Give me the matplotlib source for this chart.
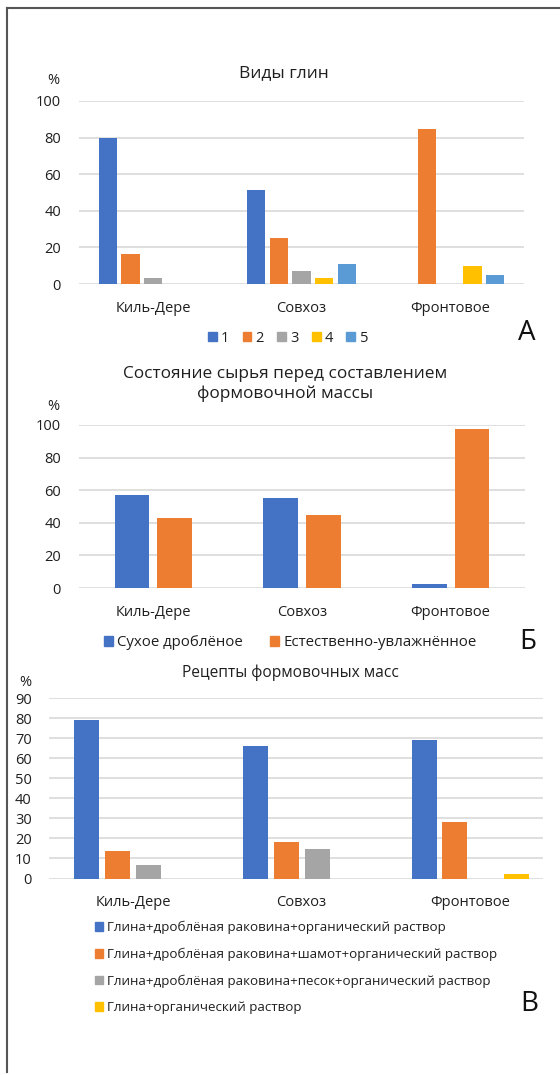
import matplotlib
matplotlib.use("Agg")
import matplotlib.pyplot as plt
from matplotlib.patches import Patch
from matplotlib.lines import Line2D
import numpy as np

plt.rcParams['font.family'] = ['Open Sans', 'DejaVu Sans']

sites = ["Киль-Дере", "Совхоз", "Фронтовое"]

# A - виды глин
clay_names = ["1", "2", "3", "4", "5"]
clay_vals = [
    [80.0, 51.5, 0.0],   # 1
    [16.4, 25.4, 84.6],  # 2
    [3.3, 7.3, 0.0],     # 3
    [0.0, 3.5, 9.9],     # 4
    [0.0, 11.2, 4.8],    # 5
]

# Б - состояние сырья
state_names = ["Сухое дроблёное", "Естественно-увлажнённое"]
state_vals = [
    [56.8, 55.5, 2.6],
    [43.2, 44.5, 97.4],
]

# В - рецепты формовочных масс
recipe_names = [
    "Глина+дроблёная раковина+органический раствор",
    "Глина+дроблёная раковина+шамот+органический раствор",
    "Глина+дроблёная раковина+песок+органический раствор",
    "Глина+органический раствор",
]
recipe_vals = [
    [79.4, 66.4, 69.4],
    [13.7, 18.4, 28.1],
    [6.7, 14.8, 0.0],
    [0.0, 0.0, 2.4],
]

colors = ["#4472C4", "#ED7D31", "#A5A5A5", "#FFC000", "#5B9BD5"]
txt = "#1f1f1f"
grid_c = "#D9D9D9"

W, H = 560, 1075
fig = plt.figure(figsize=(W / 100, H / 100), dpi=100)


def ax_at(x0, x1, ytop, ybot):
    return fig.add_axes([x0 / W, 1 - ybot / H, (x1 - x0) / W, (ybot - ytop) / H])


def style(ax, ymax, step, xmax):
    ax.set_ylim(0, ymax)
    ax.set_xlim(-0.5, xmax)
    ax.set_yticks(np.arange(0, ymax + 1, step))
    ax.set_xticks(range(len(sites)))
    ax.set_xticklabels(sites)
    for s in ax.spines.values():
        s.set_visible(False)
    ax.grid(axis="y", color=grid_c, lw=1.2)
    ax.set_axisbelow(True)
    ax.tick_params(length=0, labelsize=10.5, labelcolor=txt)
    ax.tick_params(axis="x", pad=12)
    ax.tick_params(axis="y", pad=13)


def bars(ax, vals, width, stepw):
    n = len(vals)
    x = np.arange(len(sites))
    for i, v in enumerate(vals):
        ax.bar(x + (i - (n - 1) / 2) * stepw, v, width, color=colors[i], zorder=3)


# ---- A
axA = ax_at(79, 524, 101, 284)
bars(axA, clay_vals, 0.124, 0.153)
style(axA, 100, 20, 2.5)
fig.text(284 / W, 1 - 73 / H, "Виды глин", ha="center", va="center", fontsize=12.5, color=txt)
fig.text(53 / W, 1 - 80 / H, "%", ha="center", va="center", fontsize=10.5, color=txt)
fig.legend([Patch(color=c) for c in colors], clay_names, loc="center",
           bbox_to_anchor=(288 / W, 1 - 338 / H), ncol=5, frameon=False,
           fontsize=10.5, handlelength=0.6, handleheight=0.6, handletextpad=0.3,
           columnspacing=0.9, labelcolor=txt)
fig.text(527 / W, 1 - 333 / H, "А", ha="center", va="center", fontsize=20, color="#111111")

# ---- Б
axB = ax_at(79, 525, 425, 588)
bars(axB, state_vals, 0.232, 0.288)
style(axB, 100, 20, 2.5)
fig.text(285 / W, 1 - 384 / H, "Состояние сырья перед составлением\nформовочной массы",
         ha="center", va="center", fontsize=12.4, color=txt, linespacing=1.3)
fig.text(53 / W, 1 - 406 / H, "%", ha="center", va="center", fontsize=10.5, color=txt)
fig.legend([Patch(color=c) for c in colors[:2]], state_names, loc="center",
           bbox_to_anchor=(290 / W, 1 - 643 / H), ncol=2, frameon=False,
           fontsize=10.8, handlelength=0.6, handleheight=0.6, handletextpad=0.3,
           columnspacing=1.8, labelcolor=txt)
fig.text(528 / W, 1 - 642 / H, "Б", ha="center", va="center", fontsize=20, color="#111111")

# ---- В
axC = ax_at(48.5, 543, 698.3, 878.5)
bars(axC, recipe_vals, 0.148, 0.183)
style(axC, 90, 10, 2.43)
axC.tick_params(axis="y", pad=12)
fig.text(290 / W, 1 - 673 / H, "Рецепты формовочных масс", ha="center", va="center",
         fontsize=11.2, color=txt)
fig.text(25 / W, 1 - 683 / H, "%", ha="center", va="center", fontsize=10.5, color=txt)
fig.legend([Patch(color=c) for c in colors[:4]], recipe_names, loc="upper left",
           bbox_to_anchor=(83 / W, 1 - 909 / H), ncol=1, frameon=False,
           fontsize=9.6, handlelength=0.6, handleheight=0.6, handletextpad=0.3,
           labelspacing=1.0, labelcolor=txt)
fig.text(529 / W, 1 - 1004 / H, "В", ha="center", va="center", fontsize=20, color="#111111")

# frame lines
fig.add_artist(Line2D([7 / W, 1], [1 - 8 / H, 1 - 8 / H], transform=fig.transFigure,
                      color="#555555", lw=1.5))
fig.add_artist(Line2D([7 / W, 7 / W], [1 - 8 / H, 1 - 1072 / H], transform=fig.transFigure,
                      color="#555555", lw=1.5))

fig.savefig("out.png", dpi=100)
